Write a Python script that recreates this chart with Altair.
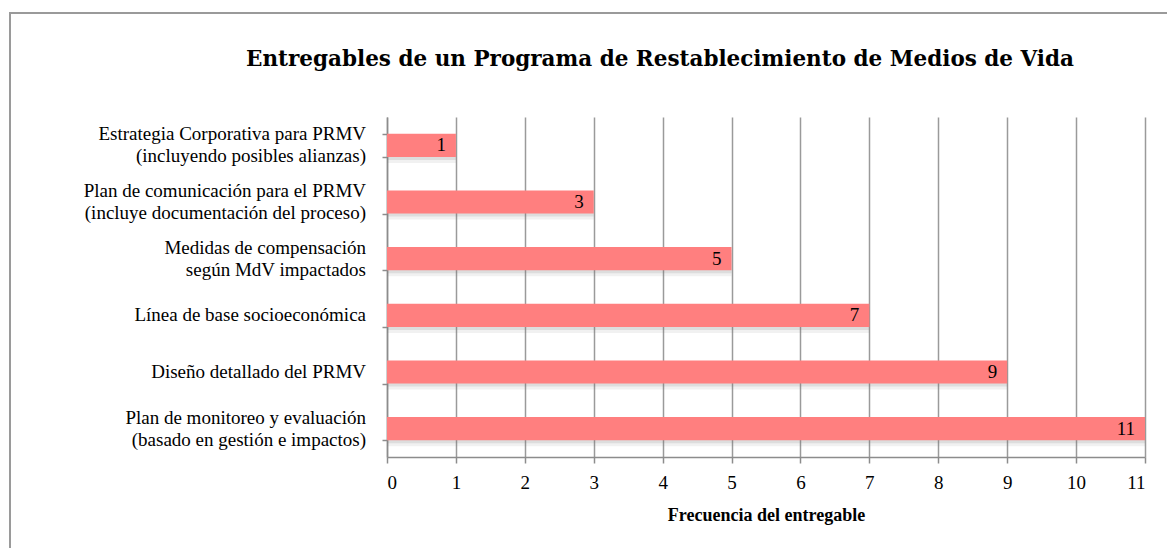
import altair as alt
import pandas as pd

categories = [
    "Estrategia Corporativa para PRMV|(incluyendo posibles alianzas)",
    "Plan de comunicación para el PRMV\u00a0|(incluye documentación del proceso)",
    "Medidas de compensación|según MdV impactados\u00a0",
    "Línea de base socioeconómica",
    "Diseño detallado del PRMV",
    "Plan de monitoreo y evaluación|(basado en gestión e impactos)",
]
values = [1, 3, 5, 7, 9, 11]
x_ticks = list(range(0, 12))

title_text = "Entregables de un Programa de Restablecimiento de Medios de Vida"
x_title = "Frecuencia del entregable"

df = pd.DataFrame({"cat": categories, "val": values})

FONT = "Liberation Serif"
TFONT = "DejaVu Serif"
W, H = 758, 340

y_enc = alt.Y(
    "cat:N",
    sort=categories,
    scale=alt.Scale(paddingInner=0.59, paddingOuter=0.295),
    axis=alt.Axis(
        title=None,
        labels=False,
        tickBand="extent",
        tickSize=5,
        tickColor="#8c8c8c",
        tickWidth=1.5,
        domainColor="#8c8c8c",
        domainWidth=1.5,
        grid=False,
    ),
)

x_enc = alt.X(
    "val:Q",
    scale=alt.Scale(domain=[0, 11], nice=False),
    axis=alt.Axis(
        values=x_ticks,
        title=x_title,
        titleFont=FONT,
        titleFontSize=18,
        titleFontWeight="bold",
        titleColor="#000000",
        titlePadding=14,
        labelFont=FONT,
        labelFontSize=19,
        labelColor="#000000",
        labelPadding=10,
        tickSize=6,
        tickColor="#8c8c8c",
        tickWidth=1.5,
        domainColor="#8c8c8c",
        domainWidth=1.5,
        grid=True,
        gridColor="#9a9a9a",
        gridWidth=1.5,
    ),
)

frame = alt.Chart(df).mark_rect(
    fill="white", fillOpacity=0, stroke="#9a9a9a", strokeWidth=2, clip=False
).encode(
    x=alt.value(-377), x2=alt.value(830), y=alt.value(-104), y2=alt.value(460)
)

base = alt.Chart(df)

shadow1 = base.mark_bar(color="#777777", opacity=0.16, yOffset=3).encode(x=x_enc, y=y_enc)
shadow2 = base.mark_bar(color="#777777", opacity=0.10, yOffset=6).encode(x=x_enc, y=y_enc)
bars = base.mark_bar(color="#FF7F7F").encode(x=x_enc, y=y_enc)

labels = base.mark_text(
    align="right", baseline="middle", dx=-10, font=FONT, fontSize=19, color="#000000"
).encode(x=x_enc, y=y_enc, text="val:Q")

cat_base = base.transform_calculate(
    lines="split(datum.cat, '|')",
    multi="indexof(datum.cat, '|') >= 0",
)
cat_single = cat_base.transform_filter("!datum.multi").mark_text(
    align="right", baseline="middle", font=FONT, fontSize=19, color="#000000", lineHeight=22
).encode(x=alt.value(-21), y=y_enc, text="lines:N")
cat_multi = cat_base.transform_filter("datum.multi").mark_text(
    align="right", baseline="middle", dy=-11, font=FONT, fontSize=19, color="#000000", lineHeight=22
).encode(x=alt.value(-21), y=y_enc, text="lines:N")

title = alt.Chart(pd.DataFrame({"t": [title_text]})).mark_text(
    font=TFONT, fontSize=21.5, fontWeight="bold", color="#000000", baseline="middle", align="center"
).encode(x=alt.value(273), y=alt.value(-57), text="t:N")

chart = alt.layer(frame, shadow2, shadow1, bars, labels, cat_single, cat_multi, title).properties(
    width=W,
    height=H,
    autosize=alt.AutoSizeParams(type="none"),
    padding={"left": 379, "top": 109, "right": 22, "bottom": 91},
).configure_view(stroke=None)

chart.save("out.html", embed_options={"renderer": "svg", "actions": False})
